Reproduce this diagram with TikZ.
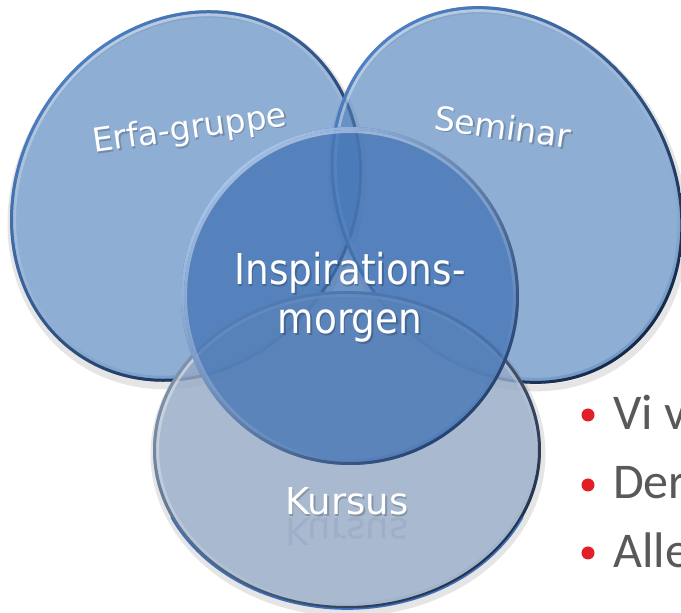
\documentclass[tikz,border=0pt]{standalone}
\usepackage{fontspec}
\newfontfamily\lblfont{DejaVu Sans}
\newfontfamily\ctrfont[FakeStretch=0.88]{DejaVu Sans}
\newfontfamily\bulfont{Carlito}
\definecolor{acc}{RGB}{79,129,189}
\definecolor{ctrfill}{RGB}{70,118,182}
\definecolor{kfill}{RGB}{150,170,198}
\definecolor{rimlight}{RGB}{78,130,200}
\definecolor{rimdark}{RGB}{22,38,66}
\definecolor{krimtop}{RGB}{125,145,170}
\definecolor{krimbot}{RGB}{35,50,75}
\definecolor{crimtop}{RGB}{165,195,235}
\definecolor{crimbot}{RGB}{38,66,110}
\definecolor{kblue}{RGB}{60,110,185}
\definecolor{krefl}{RGB}{70,90,125}
\definecolor{bulgray}{RGB}{89,89,89}
\definecolor{bulred}{RGB}{226,30,38}
\newcommand\bubble[9]{%
 \begin{scope}[shift={(#1,#2)},rotate=#3]
  \pgfmathsetmacro\xa{#4-3}\pgfmathsetmacro\ya{#5-3}%
  \pgfmathsetmacro\xb{#4-6}\pgfmathsetmacro\yb{#5-6}%
  \fill[#6,fill opacity=#7] (0,0) ellipse [x radius=#4, y radius=#5];
  \shade[even odd rule,top color=white,bottom color=#6,shading angle=30,fill opacity=.45]
    (0,0) ellipse [x radius=\xa, y radius=\ya] (0,0) ellipse [x radius=\xb, y radius=\yb];
  \shade[even odd rule,top color=#8,bottom color=#9,shading angle=45]
    (0,0) ellipse [x radius=#4, y radius=#5] (0,0) ellipse [x radius=\xa, y radius=\ya];
 \end{scope}}
\newcommand\bshadow[5]{%
 \begin{scope}[shift={(#1+1,#2-4)},rotate=#3]
  \draw[black,draw opacity=.10,line width=7] (0,0) ellipse [x radius=#4, y radius=#5];
 \end{scope}}
\tikzset{
 lbl/.style={text=white, font=\lblfont\fontsize{33}{40}\selectfont, inner sep=0},
 lblsh/.style={text=black, text opacity=0.2, font=\lblfont\fontsize{33}{40}\selectfont, inner sep=0},
 klbl/.style={text=white, font=\lblfont\fontsize{37}{44}\selectfont, inner sep=0, anchor=base},
 klblsh/.style={text=black, text opacity=0.2, font=\lblfont\fontsize{37}{44}\selectfont, inner sep=0, anchor=base},
 krefl/.style={text=krefl, text opacity=0.10, font=\lblfont\fontsize{37}{44}\selectfont, inner sep=0, anchor=base},
 ctr/.style={text=white, font=\ctrfont\fontsize{42.5}{50}\selectfont, inner sep=0, anchor=base},
 ctrsh/.style={text=black, text opacity=0.2, font=\ctrfont\fontsize{42.5}{50}\selectfont, inner sep=0, anchor=base},
 bul/.style={text=bulgray, font=\bulfont\fontsize{50}{56}\selectfont, inner sep=0, anchor=base west},
 bdot/.style={circle, fill=bulred, minimum size=13pt, inner sep=0},
}
\begin{document}
\begin{tikzpicture}[x=1pt,y=1pt]
\useasboundingbox (0,0) rectangle (681,613);
\clip (0,0) rectangle (681,613);
\fill[white] (0,0) rectangle (681,613);
% soft shadows
\bshadow{186}{417}{-33.5}{168}{193}
\bshadow{507}{418}{33.5}{166}{198}
\bshadow{347}{163}{0}{194}{159}
% circles
\bubble{186}{417}{-33.5}{168}{193}{acc}{0.64}{rimlight}{rimdark}
\bubble{507}{418}{33.5}{166}{198}{acc}{0.64}{rimlight}{rimdark}
\bubble{347}{163}{0}{194}{159}{kfill}{0.82}{krimtop}{krimbot}
\draw[kblue,line width=1.6] (347,163) ++(205:194 and 159) arc [start angle=205, end angle=335, x radius=194, y radius=159];
\bubble{350}{317}{0}{169}{169}{ctrfill}{0.78}{crimtop}{crimbot}
% labels (with soft text shadows)
\node[lblsh,rotate=8,anchor=base] (erfash) at (192.5,472.5) {Erfa-gruppe};
\node[lbl,rotate=8,anchor=base] (erfa) at (191,474) {Erfa-gruppe};
\node[lblsh,rotate=-8,anchor=base] (semsh) at (502.5,472.5) {Seminar};
\node[lbl,rotate=-8,anchor=base] (sem) at (501,474) {Seminar};
\node[krefl,yscale=-1] (kursref) at (347,94) {Kursus};
\node[klblsh] (kurssh) at (348.5,96.5) {Kursus};
\node[klbl] (kurs) at (347,98) {Kursus};
\node[ctrsh] (insp1sh) at (351.5,326.5) {Inspirations-};
\node[ctr] (insp1) at (350,328) {Inspirations-};
\node[ctrsh] (insp2sh) at (351.5,277.5) {morgen};
\node[ctr] (insp2) at (350,279) {morgen};
% bullets
\node[bdot] (d1) at (588,198) {};
\node[bdot] (d2) at (588,128) {};
\node[bdot] (d3) at (588,60) {};
\node[bul] (t1) at (613,183) {Vi v};
\node[bul] (t2) at (613,114) {Der};
\node[bul] (t3) at (613,45) {Alle};
\end{tikzpicture}
\end{document}
